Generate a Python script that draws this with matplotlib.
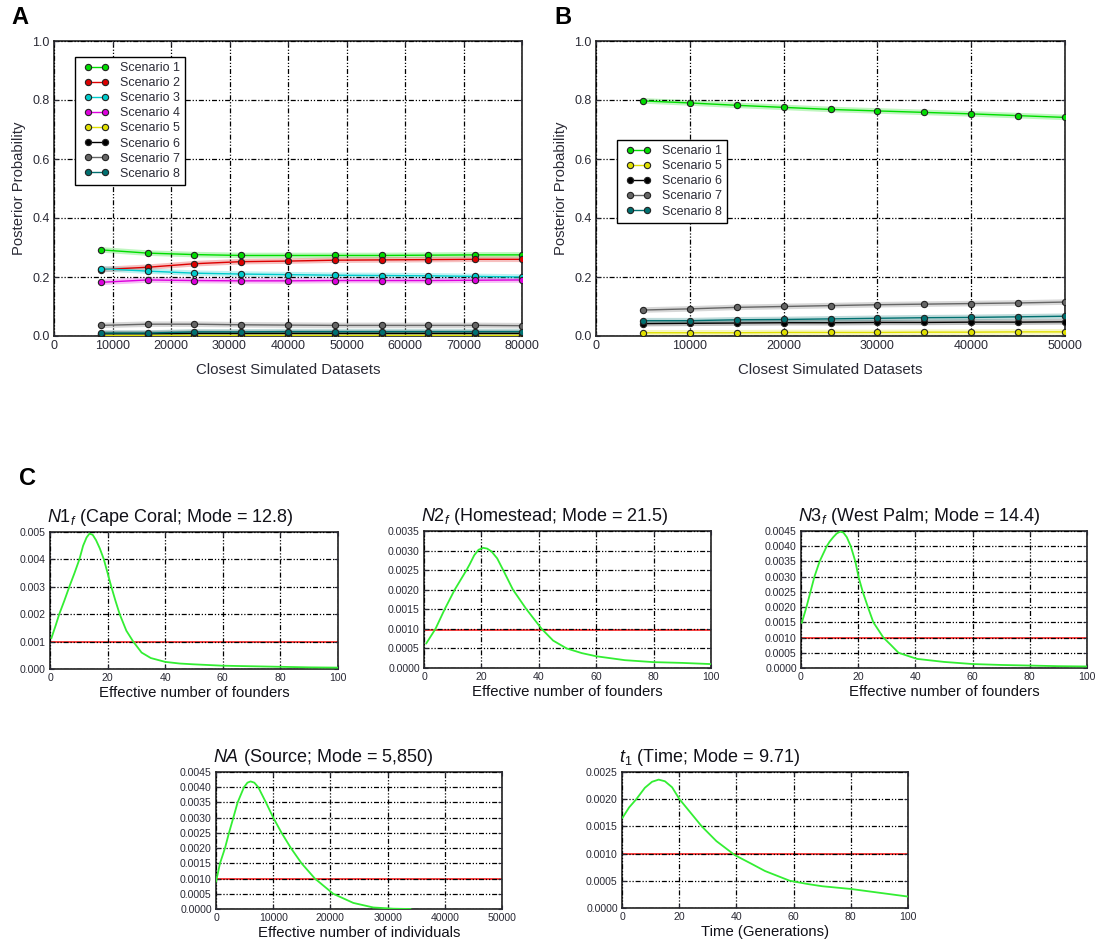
import matplotlib
matplotlib.use("Agg")
import matplotlib.pyplot as plt
from matplotlib.lines import Line2D
from matplotlib.legend_handler import HandlerLine2D

plt.rcParams["font.family"] = ["Liberation Sans", "DejaVu Sans"]
plt.rcParams["mathtext.fontset"] = "custom"
plt.rcParams["mathtext.rm"] = "Liberation Sans"
plt.rcParams["mathtext.it"] = "Liberation Sans:italic"

# ---- panel A: posterior probability, 8 scenarios ----
a_x = [8000, 16000, 24000, 32000, 40000, 48000, 56000, 64000, 72000, 80000]
a_s1 = [0.292, 0.281, 0.276, 0.273, 0.273, 0.273, 0.273, 0.274, 0.275, 0.275]
a_s2 = [0.225, 0.233, 0.245, 0.252, 0.254, 0.257, 0.258, 0.259, 0.260, 0.260]
a_s3 = [0.228, 0.220, 0.213, 0.210, 0.208, 0.206, 0.205, 0.204, 0.202, 0.200]
a_s4 = [0.182, 0.190, 0.188, 0.187, 0.187, 0.188, 0.188, 0.188, 0.189, 0.190]
a_s5 = [0.002, 0.002, 0.002, 0.002, 0.002, 0.002, 0.002, 0.002, 0.002, 0.002]
a_s6 = [0.008, 0.008, 0.009, 0.009, 0.009, 0.009, 0.009, 0.009, 0.009, 0.009]
a_s7 = [0.036, 0.040, 0.040, 0.038, 0.037, 0.036, 0.036, 0.036, 0.036, 0.035]
a_s8 = [0.010, 0.010, 0.014, 0.014, 0.015, 0.015, 0.015, 0.015, 0.015, 0.015]

# ---- panel B: posterior probability, 5 scenarios ----
b_x = [5000, 10000, 15000, 20000, 25000, 30000, 35000, 40000, 45000, 50000]
b_s1 = [0.797, 0.790, 0.782, 0.775, 0.768, 0.763, 0.758, 0.753, 0.747, 0.741]
b_s5 = [0.011, 0.011, 0.011, 0.012, 0.012, 0.012, 0.013, 0.013, 0.014, 0.014]
b_s6 = [0.042, 0.043, 0.044, 0.045, 0.045, 0.046, 0.046, 0.047, 0.047, 0.048]
b_s7 = [0.088, 0.092, 0.097, 0.100, 0.103, 0.106, 0.108, 0.110, 0.112, 0.115]
b_s8 = [0.052, 0.052, 0.055, 0.056, 0.058, 0.060, 0.062, 0.063, 0.065, 0.067]

scen_colors = {1: "#00dd00", 2: "#dd0000", 3: "#00cccc", 4: "#dd00dd",
               5: "#e0e000", 6: "#000000", 7: "#666666", 8: "#007070"}

# ---- panel C: posterior densities ----
c1_x = [0.5, 2, 3.2, 5, 6.7, 8.5, 10.2, 11.5, 12.7, 13.7, 14.8, 16, 17.3, 18.7, 20,
        21.3, 22.7, 24.2, 26.5, 28.9, 31.8, 35, 40, 45, 50, 60, 70, 80, 90, 100]
c1_y = [0.00113, 0.0016, 0.002, 0.0025, 0.003, 0.0035, 0.004, 0.0045, 0.0048, 0.00494,
        0.0049, 0.0047, 0.0044, 0.004, 0.0035, 0.003, 0.0025, 0.002, 0.0014, 0.001,
        0.0006, 0.0004, 0.00026, 0.0002, 0.00017, 0.00012, 0.0001, 0.00008, 0.00006, 0.00005]

c2_x = [0.8, 4, 7.2, 10.7, 14.8, 16, 17.5, 19, 20.6, 22, 23.5, 25.5, 27.6, 31, 35.7,
        41, 45, 49.7, 55, 60, 70, 80, 90, 100]
c2_y = [0.00063, 0.001, 0.0015, 0.002, 0.0025, 0.00266, 0.00288, 0.00302, 0.00307,
        0.00305, 0.00298, 0.0028, 0.0025, 0.002, 0.0015, 0.001, 0.0007, 0.0005, 0.00038,
        0.0003, 0.0002, 0.00015, 0.00013, 0.0001]

c3_x = [0.3, 1.9, 3.3, 4.7, 6.5, 9, 10, 11.3, 12.5, 13.7, 14.8, 16, 17.4, 19, 20.1,
        21.6, 23.4, 25.3, 28.8, 31.5, 34.1, 40.5, 50, 60, 70, 80, 90, 100]
c3_y = [0.00149, 0.002, 0.0025, 0.003, 0.0035, 0.004, 0.00415, 0.0043, 0.00442, 0.00448,
        0.00445, 0.0043, 0.004, 0.0035, 0.003, 0.0025, 0.002, 0.0015, 0.001, 0.00075,
        0.0005, 0.0003, 0.0002, 0.00013, 0.0001, 0.00008, 0.00006, 0.00005]

c4_x = [0, 700, 1570, 2270, 3030, 3780, 4890, 5500, 6050, 6700, 7390, 8730, 10010,
        11470, 13100, 14960, 17290, 20490, 24000, 27500, 31000, 34000]
c4_y = [0.0009, 0.0015, 0.002, 0.0025, 0.003, 0.0035, 0.004, 0.00415, 0.00419, 0.00415,
        0.004, 0.0035, 0.003, 0.0025, 0.002, 0.0015, 0.001, 0.0005, 0.0002, 0.00005,
        0.00001, 0.0]

c5_x = [0.2, 2.5, 5, 8, 10.5, 12.8, 15, 17.5, 20.1, 24, 27.9, 33, 39.5, 45, 50, 58.7,
        65, 70, 80, 90, 100]
c5_y = [0.00166, 0.00185, 0.002, 0.00221, 0.00232, 0.00236, 0.00233, 0.00222, 0.002,
        0.00175, 0.0015, 0.00123, 0.00097, 0.00082, 0.00068, 0.0005, 0.00044, 0.0004,
        0.00035, 0.00028, 0.00021]

prior_level = [0.001, 0.00097, 0.001, 0.001, 0.001]

GRID_LS = (0, (4, 1.5, 1, 1.5, 1, 1.5))
TICK_COL = "#2a2a35"


def style_axes(ax, xticks, yticks, xlim, ylim, fmt, tsize):
    ax.set_xlim(*xlim)
    ax.set_ylim(*ylim)
    ax.set_xticks(xticks)
    ax.set_yticks(yticks)
    ax.set_yticklabels([fmt.format(v) for v in yticks])
    ax.tick_params(direction="in", length=3, labelsize=tsize, colors=TICK_COL,
                   top=True, right=True, pad=3)
    ax.grid(True, color="black", linestyle=GRID_LS, linewidth=0.9)
    ax.set_axisbelow(False)
    for sp in ax.spines.values():
        sp.set_linewidth(1.2)
        sp.set_color("#222222")


def draw_scen(ax, x, y, n):
    c = scen_colors[n]
    ax.plot(x, y, color=c, lw=4, alpha=0.25, solid_capstyle="butt", zorder=2)
    ax.plot(x, y, color=c, lw=1, marker="o", ms=4.5, mfc=c, mec="#222222", mew=0.8,
            label="Scenario %d" % n, zorder=3)


def add_legend(ax, anchor):
    leg = ax.legend(loc="upper left", bbox_to_anchor=anchor, borderaxespad=0,
                    fontsize=9, numpoints=2, handlelength=2.6, handletextpad=0.6,
                    labelspacing=0.25, borderpad=0.4, fancybox=False, framealpha=1,
                    edgecolor="black",
                    handler_map={Line2D: HandlerLine2D(marker_pad=0.6)})
    leg.get_frame().set_linewidth(1.0)
    for t in leg.get_texts():
        t.set_color(TICK_COL)


fig = plt.figure(figsize=(10.99, 9.47), dpi=100)
W, H = 1099.0, 947.0


def add_ax(l, t, r, b):
    return fig.add_axes([l / W, 1 - b / H, (r - l) / W, (b - t) / H])


# Panel A
axA = add_ax(54, 41, 522, 336)
for n, ys in zip(range(1, 9), [a_s1, a_s2, a_s3, a_s4, a_s5, a_s6, a_s7, a_s8]):
    draw_scen(axA, a_x, ys, n)
style_axes(axA, range(0, 80001, 10000), [0, 0.2, 0.4, 0.6, 0.8, 1.0], (0, 80000), (0, 1),
           "{:.1f}", 9)
axA.set_xlabel("Closest Simulated Datasets", fontsize=10.8, labelpad=8, color=TICK_COL)
axA.set_ylabel("Posterior Probability", fontsize=10.7, labelpad=5, color=TICK_COL)
add_legend(axA, (0.045, 0.946))

# Panel B
axB = add_ax(596, 41, 1065, 336)
for n, ys in zip([1, 5, 6, 7, 8], [b_s1, b_s5, b_s6, b_s7, b_s8]):
    draw_scen(axB, b_x, ys, n)
style_axes(axB, range(0, 50001, 10000), [0, 0.2, 0.4, 0.6, 0.8, 1.0], (0, 50000), (0, 1),
           "{:.1f}", 9)
axB.set_xlabel("Closest Simulated Datasets", fontsize=10.8, labelpad=8, color=TICK_COL)
axB.set_ylabel("Posterior Probability", fontsize=10.7, labelpad=5, color=TICK_COL)
add_legend(axB, (0.045, 0.664))

# Panel C
c_boxes = [(50, 532, 338, 669), (424, 531, 711, 668), (801, 531, 1087, 668),
           (216, 772, 502, 909), (622, 772, 908, 908)]
c_titles = [r"$\mathit{N1}_{\mathit{f}}$ (Cape Coral; Mode = 12.8)",
            r"$\mathit{N2}_{\mathit{f}}$ (Homestead; Mode = 21.5)",
            r"$\mathit{N3}_{\mathit{f}}$ (West Palm; Mode = 14.4)",
            r"$\mathit{NA}$ (Source; Mode = 5,850)",
            r"$\mathit{t}_{\mathit{1}}$ (Time; Mode = 9.71)"]
c_xlabels = ["Effective number of founders", "Effective number of founders",
             "Effective number of founders", "Effective number of individuals",
             "Time (Generations)"]
c_curves = [(c1_x, c1_y), (c2_x, c2_y), (c3_x, c3_y), (c4_x, c4_y), (c5_x, c5_y)]
c_ymax = [0.005, 0.0035, 0.0045, 0.0045, 0.0025]
c_ystep = [0.001, 0.0005, 0.0005, 0.0005, 0.0005]
c_yfmt = ["{:.3f}", "{:.4f}", "{:.4f}", "{:.4f}", "{:.4f}"]
c_xmax = [100, 100, 100, 50000, 100]

for i in range(5):
    ax = add_ax(*c_boxes[i])
    cx, cy = c_curves[i]
    xm = c_xmax[i]
    ax.plot([0, xm], [prior_level[i], prior_level[i]], color="#ff2020", lw=1.2, zorder=2)
    ax.plot(cx, cy, color="#33ee33", lw=1.3, zorder=3)
    nsteps = int(round(c_ymax[i] / c_ystep[i]))
    yt = [k * c_ystep[i] for k in range(nsteps + 1)]
    style_axes(ax, [k * xm / 5 for k in range(6)], yt, (0, xm), (0, c_ymax[i]),
               c_yfmt[i], 7.6)
    if xm == 100:
        ax.set_xticklabels(["0", "20", "40", "60", "80", "100"])
    else:
        ax.set_xticklabels(["0", "10000", "20000", "30000", "40000", "50000"])
    ax.set_xlabel(c_xlabels[i], fontsize=10.7, labelpad=2, color="#111118")
    ax.set_title(c_titles[i], loc="left", fontsize=13, pad=7, x=-0.01, color="#111118")

fig.text(20 / W, 1 - 18 / H, "A", fontsize=17, fontweight="bold", ha="center", va="center")
fig.text(563 / W, 1 - 18 / H, "B", fontsize=17, fontweight="bold", ha="center", va="center")
fig.text(28 / W, 1 - 478 / H, "C", fontsize=17, fontweight="bold", ha="center", va="center")

fig.savefig("out.png", dpi=100)
